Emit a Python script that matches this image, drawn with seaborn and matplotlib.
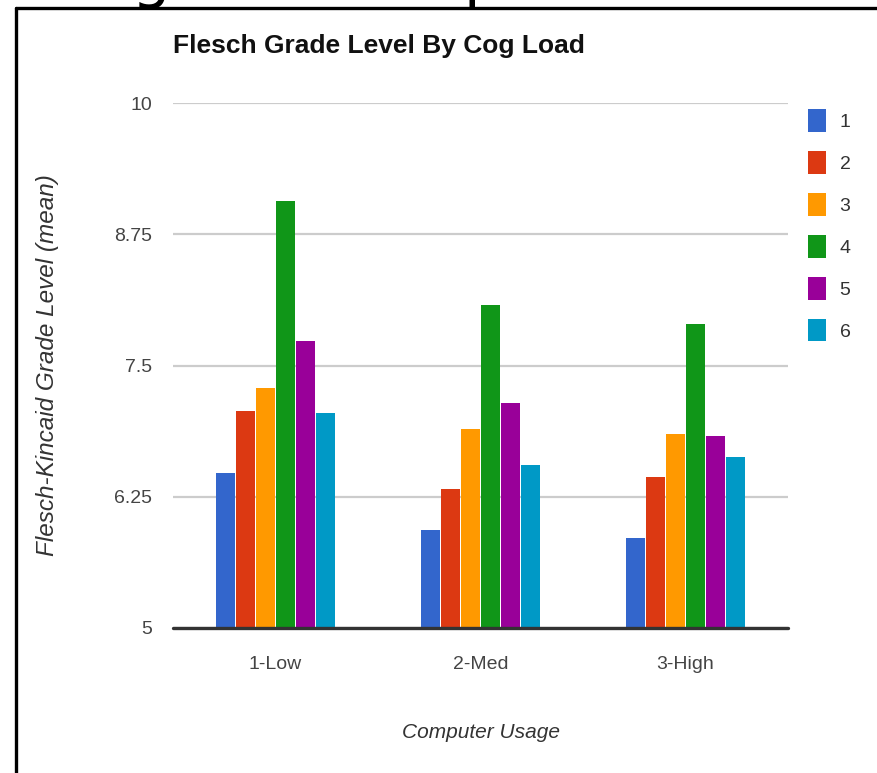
import matplotlib
matplotlib.use("Agg")
import matplotlib.pyplot as plt
from matplotlib.lines import Line2D
from matplotlib.patches import Patch
import seaborn as sns
import pandas as pd

# Data
categories = ["1-Low", "2-Med", "3-High"]
series = ["1", "2", "3", "4", "5", "6"]
values_1 = [6.48, 5.93, 5.86]
values_2 = [7.07, 6.32, 6.44]
values_3 = [7.29, 6.90, 6.85]
values_4 = [9.07, 8.08, 7.90]
values_5 = [7.73, 7.14, 6.83]
values_6 = [7.05, 6.55, 6.63]
y_ticks = [5, 6.25, 7.5, 8.75, 10]
y_tick_labels = ["5", "6.25", "7.5", "8.75", "10"]

colors = ["#3366cc", "#dc3912", "#ff9900", "#109618", "#990099", "#0099c6"]

rows = []
for s, vals in zip(series, [values_1, values_2, values_3, values_4, values_5, values_6]):
    for c, v in zip(categories, vals):
        rows.append({"usage": c, "group": s, "grade": v})
df = pd.DataFrame(rows)

sns.set_theme(style="white")
plt.rcParams["font.family"] = ["Liberation Sans", "DejaVu Sans"]

W, H = 877, 773
fig = plt.figure(figsize=(W / 100, H / 100), dpi=100)
fig.patch.set_facecolor("white")
ax = fig.add_axes([173 / W, 145 / H, 615 / W, 525 / H])

sns.barplot(data=df, x="usage", y="grade", hue="group", order=categories,
            hue_order=series, palette=colors, width=0.585, gap=0.08,
            saturation=1, linewidth=0, ax=ax, legend=False)

ax.set_ylim(5, 10)
ax.set_xlim(-0.5, 2.5)
ax.set_yticks(y_ticks)
ax.set_yticklabels(y_tick_labels)
ax.yaxis.grid(True, color="#cccccc", linewidth=1.6)
ax.set_axisbelow(True)
for sp in ax.spines.values():
    sp.set_visible(False)
ax.axhline(5, color="#333333", linewidth=2.4, zorder=5, clip_on=False)
ax.tick_params(axis="both", length=0, labelsize=14, labelcolor="#444444")
ax.tick_params(axis="y", pad=15)
ax.tick_params(axis="x", pad=20)
ax.set_xlabel("Computer Usage", fontsize=15, style="italic", color="#333333", labelpad=36)
ax.set_ylabel("Flesch-Kincaid Grade Level (mean)", fontsize=17.5, style="italic",
              color="#333333", labelpad=40)

fig.text(173 / W, 1 - 46 / H, "Flesch Grade Level By Cog Load", fontsize=19,
         fontweight="bold", color="#111111", va="center", ha="left")

handles = [Patch(facecolor=c, edgecolor="none") for c in colors]
leg = fig.legend(handles, series, loc="upper left", bbox_to_anchor=(790 / W, 1 - 92 / H),
                 frameon=False, fontsize=14, handlelength=0.95, handleheight=1.4,
                 handletextpad=0.7, labelspacing=1.0, labelcolor="#333333")

# Frame lines and the clipped heading above
fig.add_artist(Line2D([16 / W, 1], [1 - 8 / H, 1 - 8 / H], color="black", linewidth=2.4))
fig.add_artist(Line2D([16 / W, 16 / W], [0, 1 - 8 / H], color="black", linewidth=2.4))
fig.text(132 / W, 1 + 4 / H, "g", fontsize=44, color="black", ha="left", va="baseline",
         family="DejaVu Sans")
fig.text(464 / W, 1 + 4 / H, "p", fontsize=44, color="black", ha="left", va="baseline",
         family="DejaVu Sans")

fig.savefig("out.png", dpi=100, facecolor="white")
